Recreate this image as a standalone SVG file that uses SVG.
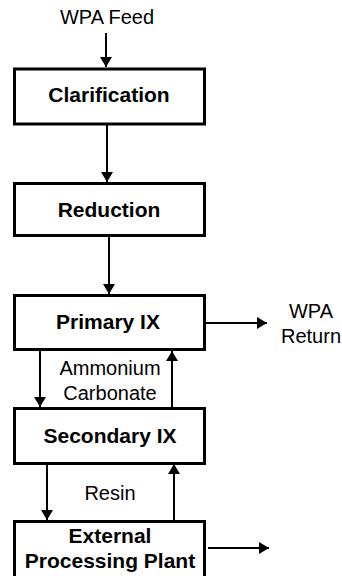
<svg xmlns="http://www.w3.org/2000/svg" width="342" height="576" viewBox="0 0 342 576">
<style>
.box{fill:#fff;stroke:#000;stroke-width:3}
.t{font-family:"Liberation Sans",Arial,sans-serif;font-size:20px;fill:#000;text-anchor:middle}
.b{font-family:"Liberation Sans",Arial,sans-serif;font-size:21px;font-weight:bold;fill:#000;text-anchor:middle}
.c{stroke:#000;stroke-width:2;fill:none;marker-end:url(#ah)}
</style>
<defs>
<marker id="ah" viewBox="0 0 10 12" refX="10" refY="6" markerWidth="10" markerHeight="12" markerUnits="userSpaceOnUse" orient="auto">
<path d="M0,0 L10,6 L0,12 z" fill="#000"/>
</marker>
</defs>
<rect width="342" height="576" fill="#fff"/>
<g id="connectors">
<line class="c" x1="106" y1="33" x2="106" y2="67"/>
<line class="c" x1="107" y1="125" x2="107" y2="182"/>
<line class="c" x1="109" y1="237" x2="109" y2="294"/>
<line class="c" x1="206" y1="323" x2="267" y2="323"/>
<line class="c" x1="40" y1="351" x2="40" y2="407"/>
<line class="c" x1="172" y1="407" x2="172" y2="351"/>
<line class="c" x1="47" y1="465" x2="47" y2="520"/>
<line class="c" x1="174" y1="520" x2="174" y2="464"/>
<line class="c" x1="208" y1="548" x2="269" y2="548"/>
</g>
<g id="feed"><text class="t" x="107" y="24">WPA Feed</text></g>
<g id="clarification"><rect class="box" x="14.5" y="69" width="190" height="55"/><text class="b" x="109" y="102">Clarification</text></g>
<g id="reduction"><rect class="box" x="14.5" y="183.5" width="190" height="52"/><text class="b" x="109" y="217">Reduction</text></g>
<g id="primary"><rect class="box" x="14.5" y="295.5" width="190" height="54"/><text class="b" x="108" y="329">Primary IX</text></g>
<g id="secondary"><rect class="box" x="14.5" y="408.5" width="190" height="55"/><text class="b" x="110" y="443">Secondary IX</text></g>
<g id="external"><rect class="box" x="14.5" y="521.5" width="190" height="70"/><text class="b" x="110" y="543">External</text><text class="b" x="110" y="568">Processing Plant</text></g>
<g id="wpa-return"><text class="t" x="311" y="318">WPA</text><text class="t" x="311" y="343">Return</text></g>
<g id="ammonium"><text class="t" x="110" y="375">Ammonium</text><text class="t" x="110" y="400">Carbonate</text></g>
<g id="resin"><text class="t" x="110" y="500">Resin</text></g>
</svg>
